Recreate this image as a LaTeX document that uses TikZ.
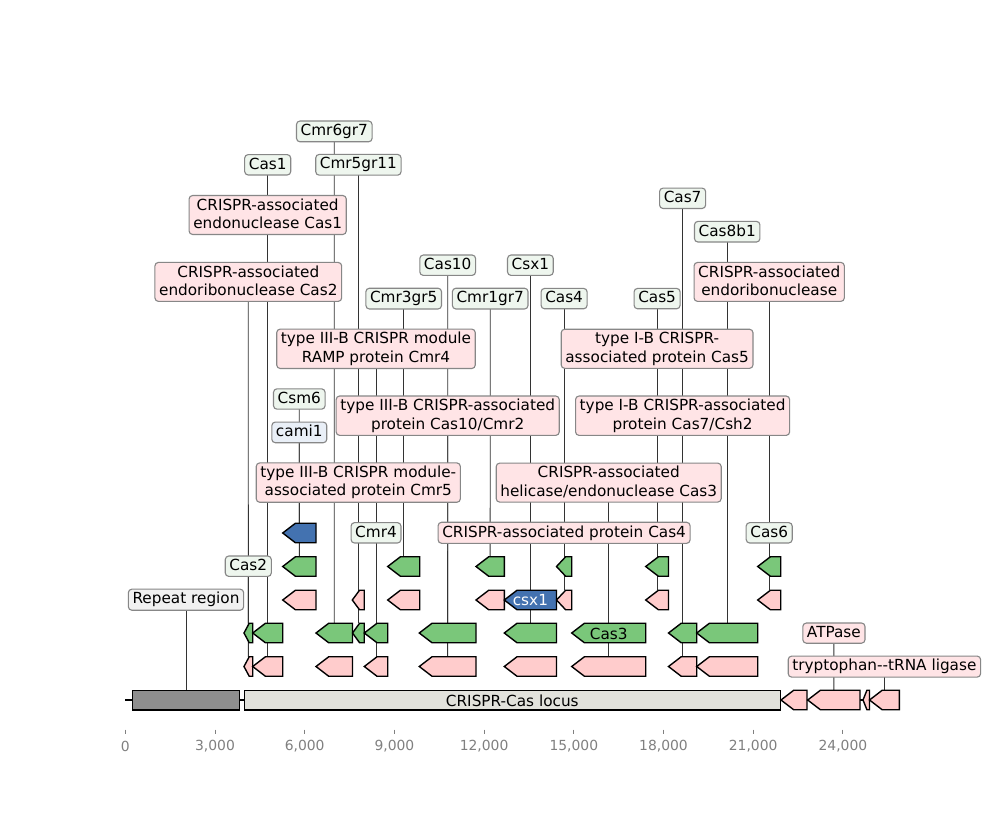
\documentclass[tikz,border=0pt]{standalone}
\usepackage{fontspec}
\setmainfont{DejaVu Sans}
\usetikzlibrary{backgrounds}

\definecolor{gfeat}{RGB}{122,199,122}
\definecolor{pfeat}{RGB}{255,204,204}
\definecolor{bfeat}{RGB}{67,114,176}
\definecolor{repfill}{RGB}{142,142,142}
\definecolor{locfill}{RGB}{226,226,220}
\definecolor{glabfill}{RGB}{238,246,238}
\definecolor{plabfill}{RGB}{255,228,230}
\definecolor{blabfill}{RGB}{233,239,247}
\definecolor{rlabfill}{RGB}{241,241,241}
\definecolor{labdraw}{RGB}{135,135,135}
\definecolor{axisgrey}{RGB}{128,128,128}

% strut giving every text line the same height and depth
\newcommand\st{\rule[-2pt]{0pt}{10pt}}

% reverse-strand feature: name, start, end, row centre, fill colour
\newcommand\revfeat[5]{%
  \pgfmathsetmacro\fhead{min(12.7,0.6*(#3-#2))}%
  \draw[featline,fill=#5] (#2,#4) -- ({#2+\fhead},{#4-9.75}) -- (#3,{#4-9.75})
    -- (#3,{#4+9.75}) -- ({#2+\fhead},{#4+9.75}) -- cycle;%
  \coordinate (#1) at ({(#2+#3)/2},{#4-9.75});%
}

\begin{document}
\begin{tikzpicture}[x=0.72pt,y=-0.72pt,
  featline/.style={draw=black,line width=1pt,line join=miter},
  labbase/.style={draw=labdraw,line width=0.8pt,rounded corners=2.5pt,
    align=center,inner xsep=3pt,inner ysep=2.25pt,
    font=\fontsize{11}{13.2}\selectfont},
  glab/.style={labbase,fill=glabfill},
  plab/.style={labbase,fill=plabfill},
  blab/.style={labbase,fill=blabfill},
  rlab/.style={labbase,fill=rlabfill},
  conn/.style={draw=black!80,line width=0.6pt},
  inl/.style={inner sep=0pt,font=\fontsize{11}{13.2}\selectfont},
  ticklab/.style={text=axisgrey,inner sep=0pt,font=\fontsize{10}{12}\selectfont}]

\useasboundingbox (0,0) rectangle (1000,819);

% ---- sequence backbone and main track ----
\draw[line width=1.5pt] (125.3,700) -- (899.3,700);
\draw[featline,fill=repfill] (132.3,690.3) rectangle (239.7,709.8);
\draw[featline,fill=locfill] (244.3,690.3) rectangle (780.3,709.8);
\coordinate (rep) at (186,690.3);
\node[inl] (locus) at (512.3,700.5) {CRISPR-Cas locus};
\revfeat{m1}{781.0}{807.0}{700}{pfeat}
\revfeat{m2}{807.7}{860.0}{700}{pfeat}
\revfeat{m3}{863.0}{869.5}{700}{pfeat}
\revfeat{m4}{869.5}{899.3}{700}{pfeat}

% ---- track 1 ----
\revfeat{p1a}{244.0}{252.7}{666.5}{pfeat}
\revfeat{p1b}{252.7}{282.7}{666.5}{pfeat}
\revfeat{p1c}{316.0}{352.5}{666.5}{pfeat}
\revfeat{p1d}{364.3}{387.7}{666.5}{pfeat}
\revfeat{p1e}{419.3}{476.0}{666.5}{pfeat}
\revfeat{p1f}{504.3}{556.5}{666.5}{pfeat}
\revfeat{p1g}{571.7}{645.7}{666.5}{pfeat}
\revfeat{p1h}{668.5}{696.7}{666.5}{pfeat}
\revfeat{p1i}{696.7}{757.7}{666.5}{pfeat}

% ---- track 2 ----
\revfeat{g2a}{244.0}{252.7}{633}{gfeat}
\revfeat{g2b}{252.7}{282.7}{633}{gfeat}
\revfeat{g2c}{316.0}{352.5}{633}{gfeat}
\revfeat{g2d}{352.5}{364.3}{633}{gfeat}
\revfeat{g2e}{364.3}{387.7}{633}{gfeat}
\revfeat{g2f}{419.3}{476.0}{633}{gfeat}
\revfeat{g2g}{504.3}{556.5}{633}{gfeat}
\revfeat{g2h}{571.7}{645.7}{633}{gfeat}
\revfeat{g2i}{668.5}{696.7}{633}{gfeat}
\revfeat{g2j}{696.7}{757.7}{633}{gfeat}
\node[inl] (cas3in) at (608.7,633.5) {Cas3};

% ---- track 3 ----
\revfeat{p3a}{282.7}{316.0}{600}{pfeat}
\revfeat{p3b}{352.3}{364.3}{600}{pfeat}
\revfeat{p3c}{387.7}{419.7}{600}{pfeat}
\revfeat{p3d}{476.0}{504.3}{600}{pfeat}
\revfeat{b3e}{504.3}{556.5}{600}{bfeat}
\revfeat{p3f}{556.5}{571.7}{600}{pfeat}
\revfeat{p3g}{645.7}{668.5}{600}{pfeat}
\revfeat{p3h}{757.7}{780.7}{600}{pfeat}
\node[inl,text=white] (csx1in) at (530.4,600.5) {csx1};

% ---- track 4 ----
\revfeat{g4a}{282.7}{316.0}{566.5}{gfeat}
\revfeat{g4b}{387.7}{419.7}{566.5}{gfeat}
\revfeat{g4c}{476.0}{504.3}{566.5}{gfeat}
\revfeat{g4d}{556.5}{571.7}{566.5}{gfeat}
\revfeat{g4e}{645.7}{668.5}{566.5}{gfeat}
\revfeat{g4f}{757.7}{780.7}{566.5}{gfeat}

% ---- track 5 ----
\revfeat{b5a}{282.7}{316.0}{533}{bfeat}

% ---- labels ----
\node[glab] (Lcmr6) at (334.3,131.4) {\st Cmr6gr7};
\node[glab] (Lcas1) at (267.7,164.8) {\st Cas1};
\node[glab] (Lcmr5g) at (358.4,164.8) {\st Cmr5gr11};
\node[glab] (Lcas7) at (682.6,198.3) {\st Cas7};
\node[plab] (Lcas1p) at (267.7,215.0) {\st CRISPR-associated\\\st endonuclease Cas1};
\node[glab] (Lcas8) at (727.2,231.7) {\st Cas8b1};
\node[glab] (Lcas10) at (447.7,265.2) {\st Cas10};
\node[glab] (Lcsx1) at (530.4,265.2) {\st Csx1};
\node[plab] (Lcas2p) at (248.3,281.9) {\st CRISPR-associated\\\st endoribonuclease Cas2};
\node[plab] (Lendo) at (769.2,281.9) {\st CRISPR-associated\\\st endoribonuclease};
\node[glab] (Lcmr3) at (403.7,298.6) {\st Cmr3gr5};
\node[glab] (Lcmr1) at (490.2,298.6) {\st Cmr1gr7};
\node[glab] (Lcas4) at (564.1,298.6) {\st Cas4};
\node[glab] (Lcas5) at (657.1,298.6) {\st Cas5};
\node[plab] (Lramp) at (376.0,348.8) {\st type III-B CRISPR module\\\st RAMP protein Cmr4};
\node[plab] (Lcas5p) at (657.1,348.8) {\st type I-B CRISPR-\\\st associated protein Cas5};
\node[glab] (Lcsm6) at (299.3,399.0) {\st Csm6};
\node[plab] (Lcas10p) at (447.7,415.7) {\st type III-B CRISPR-associated\\\st protein Cas10/Cmr2};
\node[plab] (Lcas7p) at (682.6,415.7) {\st type I-B CRISPR-associated\\\st protein Cas7/Csh2};
\node[blab] (Lcami) at (299.3,432.4) {\st cami1};
\node[plab] (Lcmr5p) at (358.3,482.6) {\st type III-B CRISPR module-\\\st associated protein Cmr5};
\node[plab] (Lcas3p) at (608.7,482.6) {\st CRISPR-associated\\\st helicase/endonuclease Cas3};
\node[glab] (Lcmr4) at (376.0,532.8) {\st Cmr4};
\node[plab] (Lcas4p) at (564.1,532.8) {\st CRISPR-associated protein Cas4};
\node[glab] (Lcas6) at (769.2,532.8) {\st Cas6};
\node[glab] (Lcas2) at (248.3,566.2) {\st Cas2};
\node[rlab] (Lrep) at (186.0,599.7) {\st Repeat region};
\node[plab] (Latp) at (833.9,633.1) {\st ATPase};
\node[plab] (Ltrp) at (884.4,666.6) {\st tryptophan-{}-tRNA ligase};

% ---- position axis ----
\foreach \k/\txt in {0/0,1/{3,000},2/{6,000},3/{9,000},4/{12,000},5/{15,000},6/{18,000},7/{21,000},8/{24,000}}{
  \draw[axisgrey,line width=0.6pt] ({125.3+89.7*\k},729.5) -- ({125.3+89.7*\k},734);
  \node[ticklab] (tick\k) at ({125.3+89.7*\k},746.5) {\txt};
}

% ---- connectors, drawn beneath labels and features ----
\begin{scope}[on background layer]
  \fill[white] (0,0) rectangle (1000,819);
  \foreach \lab/\feat in {Lcas2p/p1a,Lcas2/g2a,Lcas1/g2b,Lcas1p/p1b,Lcsm6/g4a,
      Lcami/b5a,Lcmr6/g2c,Lcmr5g/g2d,Lcmr5p/p3b,Lramp/p1d,Lcmr4/g2e,Lcmr3/g4b,
      Lcas10/g2f,Lcas10p/p1e,Lcmr1/g4c,Lcsx1/g2g,Lcas4/g4d,Lcas4p/p3f,Lcas3p/p1g,
      Lcas5/g4e,Lcas5p/p3g,Lcas7/g2i,Lcas7p/p1h,Lcas8/g2j,Lendo/p3h,Lcas6/g4f,
      Lrep/rep,Latp/m2,Ltrp/m4}{
    \draw[conn] (\lab.center) -- (\feat);
  }
\end{scope}
\end{tikzpicture}
\end{document}
